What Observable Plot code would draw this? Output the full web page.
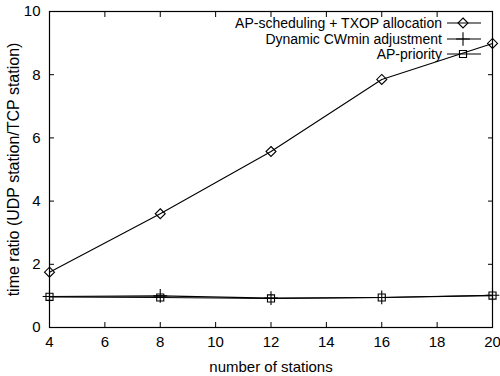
<!DOCTYPE html>
<html>
<head>
<meta charset="utf-8">
<script src="https://cdn.jsdelivr.net/npm/d3@7"></script>
<script src="https://cdn.jsdelivr.net/npm/@observablehq/plot@0.6"></script>
<style>
  body { margin: 0; background: #fff; }
  #wrap { position: relative; width: 500px; height: 376px; font-family: "Liberation Sans", Arial, sans-serif; }
  #legend { position: absolute; left: 0; top: 0; }
</style>
</head>
<body>
<div id="wrap"></div>
<script>
const stations = [4, 8, 12, 16, 20];
const apScheduling = [1.75, 3.6, 5.57, 7.85, 8.99];
const dynamicCW = [0.98, 1.0, 0.93, 0.95, 1.02];
const apPriority = [0.97, 0.95, 0.92, 0.95, 1.01];
const seriesNames = ["AP-scheduling + TXOP allocation", "Dynamic CWmin adjustment", "AP-priority"];
const seriesSymbols = ["diamond2", "plus", "square2"];
const xTicks = [4, 6, 8, 10, 12, 14, 16, 18, 20];
const yTicks = [0, 2, 4, 6, 8, 10];

const allSeries = [apScheduling, dynamicCW, apPriority];
const rows = [];
allSeries.forEach((vals, s) => vals.forEach((v, i) => rows.push({series: seriesNames[s], x: stations[i], y: v})));

const font = "Liberation Sans, Arial, sans-serif";
const chart = Plot.plot({
  width: 500, height: 376,
  marginLeft: 49, marginRight: 8, marginTop: 11, marginBottom: 49,
  style: {fontFamily: font, fontSize: "15px", color: "#000", background: "#fff"},
  x: {domain: [4, 20]},
  y: {domain: [0, 10]},
  symbol: {domain: seriesNames, range: seriesSymbols},
  marks: [
    Plot.frame({stroke: "#000", strokeWidth: 1.2}),
    Plot.axisX(xTicks, {anchor: "bottom", tickSize: -5, tickFormat: () => "", label: null}),
    Plot.axisX(xTicks, {anchor: "bottom", tickSize: 0, tickPadding: 9, fontSize: 15, label: "number of stations", labelAnchor: "center", labelArrow: "none", labelOffset: 44}),
    Plot.axisX(xTicks, {anchor: "top", tickSize: -5, tickFormat: () => "", label: null}),
    Plot.axisY(yTicks, {anchor: "left", tickSize: -5, tickFormat: () => "", label: null}),
    Plot.axisY(yTicks, {anchor: "left", tickSize: 0, tickPadding: 9, fontSize: 15, label: null}),
    Plot.axisY(yTicks, {anchor: "left", tickSize: 0, tickFormat: () => "", fontSize: 16, label: "time ratio (UDP station/TCP station)", labelAnchor: "center", labelArrow: "none", labelOffset: 42}),
    Plot.axisY(yTicks, {anchor: "right", tickSize: -5, tickFormat: () => "", label: null}),
    Plot.line(rows, {x: "x", y: "y", z: "series", stroke: "#000", strokeWidth: 1.1}),
    Plot.dot(rows, {x: "x", y: "y", symbol: "series", stroke: "#000", fill: "none", r: 4.5, strokeWidth: 1.1})
  ]
});
const wrap = document.getElementById("wrap");
wrap.appendChild(chart);

// legend overlay
const ns = "http://www.w3.org/2000/svg";
const leg = document.createElementNS(ns, "svg");
leg.setAttribute("id", "legend");
leg.setAttribute("width", 500);
leg.setAttribute("height", 80);
const rowY = [23, 39, 54];
const legSymbols = [d3.symbolDiamond2, d3.symbolPlus, d3.symbolSquare2];
seriesNames.forEach((name, i) => {
  const t = document.createElementNS(ns, "text");
  t.setAttribute("x", 442); t.setAttribute("y", rowY[i]);
  t.setAttribute("text-anchor", "end"); t.setAttribute("dominant-baseline", "central");
  t.setAttribute("font-family", font); t.setAttribute("font-size", 14);
  t.textContent = name;
  leg.appendChild(t);
  const l = document.createElementNS(ns, "line");
  l.setAttribute("x1", 447); l.setAttribute("x2", 481); l.setAttribute("y1", rowY[i]); l.setAttribute("y2", rowY[i]);
  l.setAttribute("stroke", "#000"); l.setAttribute("stroke-width", 1.1);
  leg.appendChild(l);
  const p = document.createElementNS(ns, "path");
  p.setAttribute("d", d3.symbol(legSymbols[i], Math.PI * 4.5 * 4.5)());
  p.setAttribute("transform", `translate(463,${rowY[i]})`);
  p.setAttribute("fill", "none"); p.setAttribute("stroke", "#000"); p.setAttribute("stroke-width", 1.1);
  leg.appendChild(p);
});
wrap.appendChild(leg);
</script>
</body>
</html>
